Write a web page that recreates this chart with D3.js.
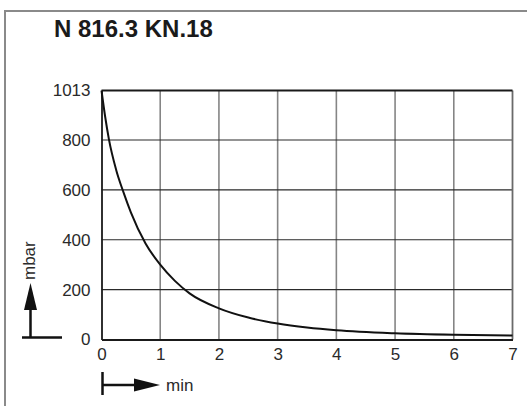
<!DOCTYPE html>
<html>
<head>
<meta charset="utf-8">
<script src="https://cdn.jsdelivr.net/npm/d3@7"></script>
<style>
  body { margin: 0; background: #fff; }
  svg { display: block; font-family: "Liberation Sans", Arial, sans-serif; }
</style>
</head>
<body>
<div id="chart"></div>
<script>
// pump-down curve, time in minutes vs pressure in mbar
const title = "N 816.3 KN.18";
const timeMin = [0, 0.0625, 0.125, 0.25, 0.375, 0.5, 0.75, 1, 1.25, 1.5, 2, 2.5, 3, 3.5, 4, 5, 6, 7];
const pressure = [1013, 900, 805, 680, 590, 510, 385, 300, 235, 185, 125, 88, 64, 48, 37, 25, 19, 16];
const xTicks = [0, 1, 2, 3, 4, 5, 6, 7];
const yTicks = [0, 200, 400, 600, 800, 1013];
const yUnit = "mbar";
const xUnit = "min";

const width = 527;
const height = 406;

const svg = d3
  .select("#chart")
  .append("svg")
  .attr("width", width)
  .attr("height", height);

// outer frame (open at right and bottom)
svg.append("path")
  .attr("d", "M5,406V11H527")
  .attr("fill", "none")
  .attr("stroke", "#8a8a8a")
  .attr("stroke-width", 2);

svg.append("text")
  .attr("x", 54)
  .attr("y", 37)
  .attr("font-size", 24)
  .attr("font-weight", "bold")
  .attr("fill", "#1a1a1a")
  .text(title);

// plot area
const plot = { left: 101.5, right: 512.5, top: 90.5, bottom: 339.5 };

const x = d3.scaleLinear().domain([0, 7]).range([plot.left, plot.right]);
// top line labelled 1013 sits one grid step above 800
const y = d3.scaleLinear().domain([0, 800, 1013]).range([plot.bottom, 140, plot.top]);

// vertical grid
svg.append("g")
  .selectAll("line")
  .data(xTicks.slice(1, -1))
  .join("line")
  .attr("x1", d => x(d)).attr("x2", d => x(d))
  .attr("y1", plot.top).attr("y2", plot.bottom)
  .attr("stroke", "#858585")
  .attr("stroke-width", 1.6);

// horizontal grid
svg.append("g")
  .selectAll("line")
  .data(yTicks.slice(1, -1))
  .join("line")
  .attr("x1", plot.left).attr("x2", plot.right)
  .attr("y1", d => y(d)).attr("y2", d => y(d))
  .attr("stroke", "#2a2a2a")
  .attr("stroke-width", 1.2);

// frame of the plot
svg.append("line")
  .attr("x1", x(7)).attr("x2", x(7)).attr("y1", plot.top).attr("y2", plot.bottom)
  .attr("stroke", "#6a6a6a").attr("stroke-width", 1.8);
svg.append("line")
  .attr("x1", plot.left).attr("x2", plot.right).attr("y1", y(1013)).attr("y2", y(1013))
  .attr("stroke", "#1a1a1a").attr("stroke-width", 1.8);

// axes
const xAxis = svg.append("g")
  .attr("transform", `translate(0,${plot.bottom})`)
  .call(d3.axisBottom(x).tickValues(xTicks).tickSize(0).tickPadding(8).tickFormat(d3.format("d")));
const yAxis = svg.append("g")
  .attr("transform", `translate(${plot.left},0)`)
  .call(d3.axisLeft(y).tickValues(yTicks).tickSize(0).tickPadding(11).tickFormat(d3.format("d")));

[xAxis, yAxis].forEach(g => {
  g.attr("font-size", 17).attr("font-family", "Liberation Sans, Arial, sans-serif");
  g.select(".domain").attr("stroke", "#1a1a1a").attr("stroke-width", 1.8);
  g.selectAll("text").attr("fill", "#2a2a2a");
});

// curve
const line = d3.line()
  .x((d, i) => x(timeMin[i]))
  .y(d => y(d))
  .curve(d3.curveMonotoneX);

svg.append("path")
  .datum(pressure)
  .attr("fill", "none")
  .attr("stroke", "#111")
  .attr("stroke-width", 2)
  .attr("d", line);

// unit arrows
const ink = "#111";
// y arrow
svg.append("line").attr("x1", 22).attr("x2", 62).attr("y1", 337.5).attr("y2", 337.5)
  .attr("stroke", ink).attr("stroke-width", 2.5);
svg.append("line").attr("x1", 30.5).attr("x2", 30.5).attr("y1", 337.5).attr("y2", 305)
  .attr("stroke", ink).attr("stroke-width", 2.5);
svg.append("path").attr("d", "M30.5,283L37,310L24,310Z").attr("fill", ink);
svg.append("text")
  .attr("transform", "translate(35,280) rotate(-90)")
  .attr("font-size", 17)
  .attr("fill", "#2a2a2a")
  .text(yUnit);

// x arrow
svg.append("line").attr("x1", 102.5).attr("x2", 102.5).attr("y1", 372).attr("y2", 395)
  .attr("stroke", ink).attr("stroke-width", 2.5);
svg.append("line").attr("x1", 102.5).attr("x2", 140).attr("y1", 385).attr("y2", 385)
  .attr("stroke", ink).attr("stroke-width", 2.5);
svg.append("path").attr("d", "M160,385L134,378.5L134,391.5Z").attr("fill", ink);
svg.append("text")
  .attr("x", 166)
  .attr("y", 390.5)
  .attr("font-size", 17)
  .attr("fill", "#2a2a2a")
  .text(xUnit);
</script>
</body>
</html>
